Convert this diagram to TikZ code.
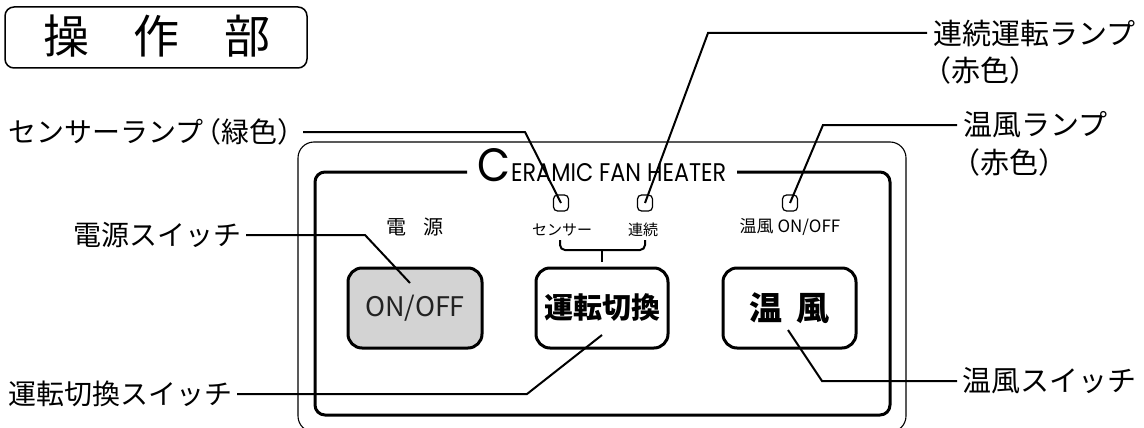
\documentclass[tikz,border=0pt]{standalone}
\usepackage{fontspec}
\usepackage{graphicx}
\newfontfamily\jp{Noto Sans CJK JP}
\newfontfamily\logofont{Poppins}
\definecolor{btngray}{HTML}{D3D3D3}
\definecolor{txtdark}{HTML}{222222}
\begin{document}
\begin{tikzpicture}[x=1pt,y=-1pt,
  lead/.style={line width=2pt},
  lbl/.style={font=\jp\fontsize{29}{29}\selectfont, inner sep=0pt},
  lbll/.style={font=\jp\fontsize{28}{28}\selectfont, inner sep=0pt},
  small/.style={font=\jp\fontsize{15}{15}\selectfont, inner sep=0pt},
  lamp/.style={draw, line width=1.2pt, rounded corners=4pt, minimum width=15pt, minimum height=16pt, inner sep=0pt},
  btn/.style={draw, line width=3pt, rounded corners=14pt, minimum width=133pt, minimum height=80pt, inner sep=0pt},
  ttl/.style={font=\jp\fontsize{46}{46}\selectfont, inner sep=0pt}]
\useasboundingbox (0,0) rectangle (1144,428);
\clip (0,0) rectangle (1144,428);

% title
\node[draw, line width=1.5pt, rounded corners=9pt, minimum width=302pt, minimum height=61pt, inner sep=0pt] (title) at (156,37.5) {};
\node[ttl] (t1) at (66,36) {操};
\node[ttl] (t2) at (156,36) {作};
\node[ttl] (t3) at (247,36) {部};

% panels
\draw[line width=1.1pt, rounded corners=16pt] (298,142) rectangle (906,432);
\draw[line width=3pt, rounded corners=10pt] (467,172) -- (315,172) -- (315,415) -- (890,415) -- (890,172) -- (737,172);
\node[anchor=base west, inner sep=0pt] (logo) at (477,181) {\logofont\resizebox{33pt}{33pt}{C}\kern1pt\resizebox{215pt}{18pt}{ERAMIC FAN HEATER}};

% lamps
\node[lamp] (lS) at (561,203) {};
\node[lamp] (lR) at (645,203) {};
\node[lamp] (lW) at (790,203) {};

% inner labels
\node[inner sep=0pt, font=\jp\fontsize{20}{20}\selectfont] (dengen) at (415,227) {電\hspace{17pt}源};
\node[small] (sensT) at (562,230) {センサー};
\node[small] (renT) at (643,230) {連続};
\node[inner sep=0pt, font=\jp\fontsize{17}{17}\selectfont] (onoffT) at (790,227) {温風 ON/OFF};

% bracket
\draw[line width=2pt, rounded corners=5pt] (560,240) -- (560,250) -- (645,250) -- (645,240);
\coordinate (brm) at (602,250);
\coordinate (brt) at (602,262);
\draw[line width=2pt] (brm) -- (brt);

% buttons
\node[btn, fill=btngray, minimum width=134pt] (bOn) at (415,308) {};
\node[inner sep=0pt, font=\jp\fontsize{27}{27}\selectfont, text=txtdark] (bOnT) at (415,308) {ON/OFF};
\node[btn, minimum width=132pt] (bRun) at (602,308) {};
\node[inner sep=0pt, font=\jp\fontsize{29}{29}\selectfont\bfseries] (bRunT) at (602,308) {運転切換};
\node[btn] (bWarm) at (789.5,308) {};
\node[inner sep=0pt, font=\jp\fontsize{33}{33}\selectfont\bfseries] (bWarmT) at (789.5,308) {温\hspace{14pt}風};

% labels
\node[lbll, anchor=west] (Lsens) at (8,132) {センサーランプ\kern-10pt（緑色）};
\node[lbl, anchor=west] (Lren) at (933,33) {連続運転ランプ};
\node[lbl, anchor=west] (Lren2) at (922,70) {（赤色）};
\node[lbl, anchor=west] (Lwarm) at (963,125) {温風ランプ};
\node[lbl, anchor=west] (Lwarm2) at (951,162) {（赤色）};
\node[lbll, anchor=east] (Lpow) at (242,235) {電源スイッチ};
\node[lbll, anchor=east] (Lrun) at (233,394) {運転切換スイッチ};
\node[lbl, anchor=west] (Lwsw) at (962,381) {温風スイッチ};

% leader coordinates
\coordinate (a1) at (303,132);
\coordinate (b1) at (525,132);
\coordinate (a2) at (927,33);
\coordinate (b2) at (708,33);
\coordinate (a3) at (957,125);
\coordinate (b3) at (823,125);
\coordinate (a4) at (246,235);
\coordinate (b4) at (365,235);
\coordinate (e4) at (410,283);
\coordinate (a5) at (237,394);
\coordinate (b5) at (527,394);
\coordinate (e5) at (602,335);
\coordinate (a6) at (957,381);
\coordinate (b6) at (822,381);
\coordinate (e6) at (788,330);

% leaders
\draw[lead] (a1) -- (b1) -- (lS.center);
\draw[lead] (a2) -- (b2) -- (lR.center);
\draw[lead] (a3) -- (b3) -- (lW.center);
\draw[lead] (a4) -- (b4) -- (e4);
\draw[lead] (a5) -- (b5) -- (e5);
\draw[lead] (a6) -- (b6) -- (e6);
\end{tikzpicture}
\end{document}
